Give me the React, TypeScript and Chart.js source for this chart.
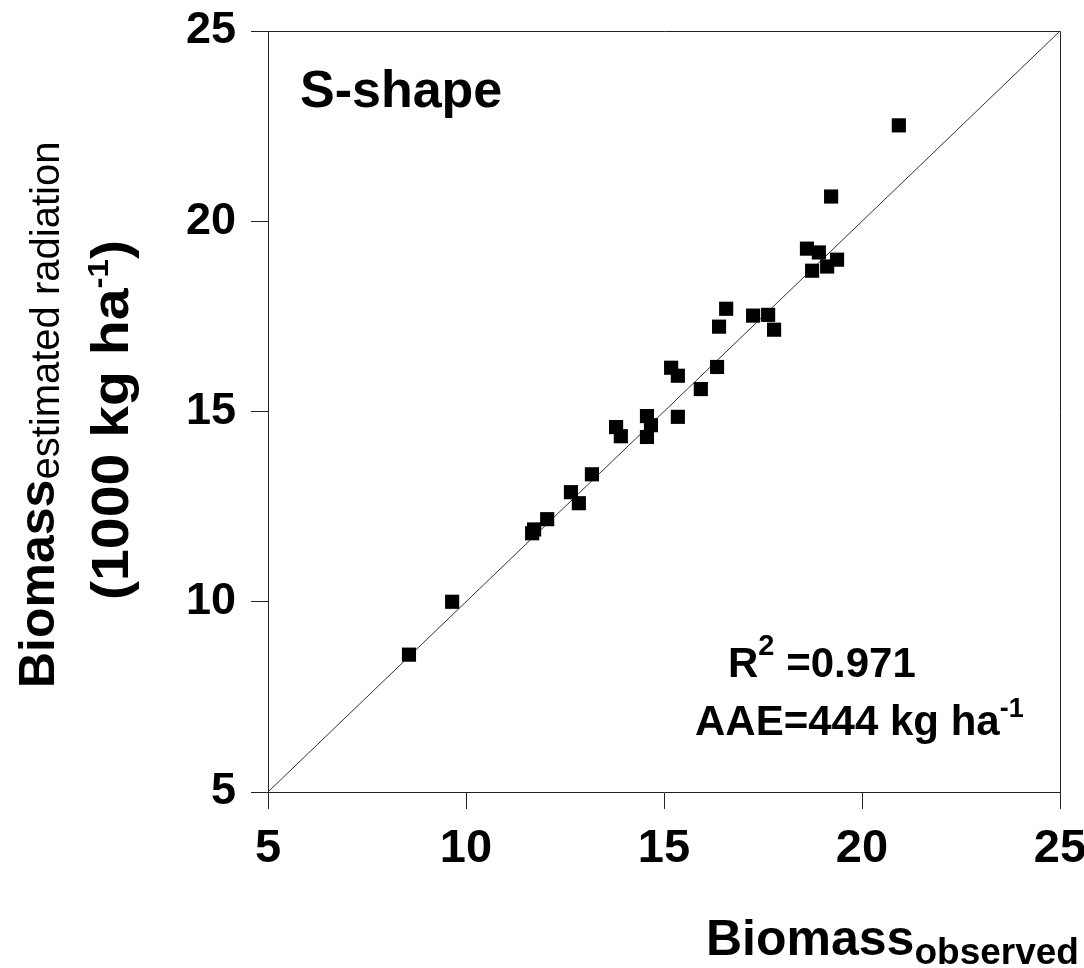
import React, { useEffect, useRef } from 'react';
import { Chart, registerables } from 'chart.js';

Chart.register(...registerables);

const observed = [8.56, 9.65, 11.67, 11.72, 12.05, 12.65, 12.85, 13.18, 13.79, 13.91, 14.57, 14.67, 14.57, 15.35, 15.18, 15.35, 15.93, 16.34, 16.39, 16.57, 17.25, 17.63, 17.78, 18.61, 18.74, 18.91, 19.12, 19.37, 19.22, 20.93];
const estimated = [8.61, 10.0, 11.8, 11.9, 12.17, 12.88, 12.59, 13.35, 14.59, 14.35, 14.88, 14.64, 14.33, 14.86, 16.15, 15.94, 15.59, 16.17, 17.23, 17.7, 17.52, 17.54, 17.15, 19.28, 18.7, 19.18, 18.81, 18.99, 20.65, 22.52];
const oneToOne = [5, 25];
const axisMin = 5;
const axisMax = 25;
const axisStep = 5;

const FAMILY = "'Liberation Sans', Arial, sans-serif";

type Seg = { text: string; font: string; dy?: number };

function drawSegs(ctx: CanvasRenderingContext2D, segs: Seg[], x: number, y: number) {
  let cx = x;
  for (const s of segs) {
    ctx.font = s.font;
    ctx.fillText(s.text, cx, y + (s.dy || 0));
    cx += ctx.measureText(s.text).width;
  }
}

const annotations = {
  id: 'annotations',
  afterDraw(chart: any) {
    const ctx: CanvasRenderingContext2D = chart.ctx;
    const { left, top, right, bottom } = chart.chartArea;
    ctx.save();
    // box top & right
    ctx.strokeStyle = '#222';
    ctx.lineWidth = 1;
    ctx.beginPath();
    const t = Math.round(top) + 0.5;
    const r = Math.round(right) + 0.5;
    ctx.moveTo(Math.round(left), t);
    ctx.lineTo(r, t);
    ctx.lineTo(r, Math.round(bottom) + 1);
    ctx.stroke();

    ctx.fillStyle = '#000';
    ctx.textBaseline = 'alphabetic';
    ctx.textAlign = 'left';
    const b = (s: number) => `bold ${s}px ${FAMILY}`;
    const n = (s: number) => `${s}px ${FAMILY}`;

    drawSegs(ctx, [{ text: 'S-shape', font: b(52) }], 300, 107);
    drawSegs(ctx, [
      { text: 'R', font: b(42) },
      { text: '2', font: b(29), dy: -22 },
      { text: ' =0.971', font: b(42) },
    ], 728, 677);
    drawSegs(ctx, [
      { text: 'AAE=444 kg ha', font: b(42) },
      { text: '-1', font: b(27), dy: -18 },
    ], 695, 735);

    // x title
    drawSegs(ctx, [
      { text: 'Biomass', font: b(50) },
      { text: 'observed', font: b(37), dy: 9 },
    ], 706, 955);

    // y title line 1
    ctx.save();
    ctx.translate(54, 688);
    ctx.rotate(-Math.PI / 2);
    drawSegs(ctx, [
      { text: 'Biomass', font: b(50) },
      { text: 'estimated radiation', font: n(40), dy: 5 },
    ], 0, 0);
    ctx.restore();

    // y title line 2
    ctx.save();
    ctx.translate(128, 600);
    ctx.rotate(-Math.PI / 2);
    ctx.scale(1.1, 1);
    drawSegs(ctx, [
      { text: '(1000 kg ha', font: b(52) },
      { text: '-1', font: b(30), dy: -20 },
      { text: ')', font: b(52) },
    ], 0, 0);
    ctx.restore();

    ctx.restore();
  },
};

export default function App() {
  const ref = useRef<HTMLCanvasElement | null>(null);
  useEffect(() => {
    if (!ref.current) return;
    const points = observed.map((x, i) => ({ x, y: estimated[i] }));
    const line = oneToOne.map((v) => ({ x: v, y: v }));
    const chart = new Chart(ref.current, {
      type: 'scatter',
      data: {
        datasets: [
          {
            type: 'line',
            data: line,
            borderColor: '#333',
            borderWidth: 1,
            pointRadius: 0,
            fill: false,
            order: 2,
          } as any,
          {
            data: points,
            pointStyle: 'rect',
            pointRadius: 10,
            pointBorderWidth: 0,
            backgroundColor: '#000',
            borderColor: '#000',
            order: 1,
          } as any,
        ],
      },
      options: {
        animation: false,
        responsive: false,
        maintainAspectRatio: false,
        layout: { padding: { left: 0, top: 31, right: 24, bottom: 0 } },
        plugins: { legend: { display: false }, tooltip: { enabled: false }, title: { display: false } },
        scales: {
          x: {
            type: 'linear',
            min: axisMin,
            max: axisMax,
            ticks: {
              stepSize: axisStep,
              color: '#000',
              padding: 12,
              font: { family: FAMILY, size: 47, weight: 'bold' },
            },
            grid: { drawOnChartArea: false, drawTicks: true, tickLength: 17, color: '#222', lineWidth: 1 },
            border: { display: true, color: '#222', width: 1 },
            afterFit: (s: any) => {
              s.height = 176;
              s.paddingLeft = 0;
              s.paddingRight = 0;
            },
          },
          y: {
            type: 'linear',
            min: axisMin,
            max: axisMax,
            ticks: {
              stepSize: axisStep,
              color: '#000',
              padding: 15,
              font: { family: FAMILY, size: 45, weight: 'bold' },
            },
            grid: { drawOnChartArea: false, drawTicks: true, tickLength: 17, color: '#222', lineWidth: 1 },
            border: { display: true, color: '#222', width: 1 },
            afterFit: (s: any) => {
              s.width = 268;
              s.paddingTop = 0;
              s.paddingBottom = 0;
            },
          },
        },
      },
      plugins: [annotations],
    });
    return () => chart.destroy();
  }, []);
  return (
    <div style={{ position: 'absolute', left: 0, top: 0, width: 1084, height: 968, background: '#fff' }}>
      <canvas ref={ref} width={1084} height={968} style={{ width: 1084, height: 968, display: 'block' }} />
    </div>
  );
}
